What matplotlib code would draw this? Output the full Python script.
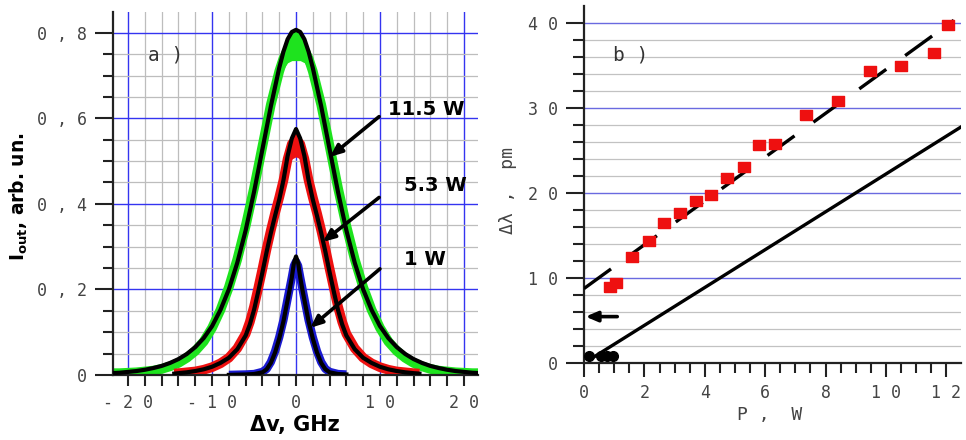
import matplotlib.pyplot as plt
from matplotlib.ticker import MultipleLocator, FuncFormatter

# ---- panel a): transmitted spectra, x in GHz ----
fit_x = [-22, -21, -20, -19, -18, -17, -16, -15, -14, -13, -12, -11, -10, -9, -8, -7, -6, -5, -4, -3,
         -2, -1.5, -1, -0.5, 0, 0.5, 1, 1.5, 2,
         3, 4, 5, 6, 7, 8, 9, 10, 11, 12, 13, 14, 15, 16, 17, 18, 19, 20, 21, 22]
fit_115 = [0.004, 0.005, 0.007, 0.009, 0.012, 0.016, 0.021, 0.028, 0.037, 0.049, 0.065, 0.086, 0.114,
           0.152, 0.200, 0.262, 0.338, 0.428, 0.528, 0.628, 0.718, 0.756, 0.785, 0.802, 0.807,
           0.802, 0.785, 0.756, 0.718, 0.628, 0.528, 0.428, 0.338, 0.262, 0.200, 0.152, 0.114,
           0.086, 0.065, 0.049, 0.037, 0.028, 0.021, 0.016, 0.012, 0.009, 0.007, 0.005, 0.004]
data_115 = [0.004, 0.004, 0.005, 0.006, 0.008, 0.010, 0.014, 0.020, 0.028, 0.040, 0.056, 0.078, 0.110,
            0.152, 0.205, 0.270, 0.348, 0.437, 0.535, 0.632, 0.710, 0.740, 0.760, 0.770, 0.775,
            0.770, 0.760, 0.740, 0.710, 0.632, 0.535, 0.437, 0.348, 0.270, 0.205, 0.152, 0.110,
            0.078, 0.056, 0.040, 0.028, 0.020, 0.014, 0.010, 0.008, 0.006, 0.005, 0.004, 0.004]

red_x = [-14.5, -14, -13, -12, -11, -10, -9, -8, -7, -6, -5.5, -5, -4.5, -4, -3.5, -3, -2.5, -2, -1.5,
         -1, -0.5, 0, 0.5, 1, 1.5, 2, 2.5, 3, 3.5, 4, 4.5, 5, 5.5, 6, 7, 8, 9, 10, 11, 12, 13, 14, 14.7]
fit_53 = [0.003, 0.004, 0.006, 0.009, 0.013, 0.019, 0.028, 0.040, 0.060, 0.092, 0.118, 0.152, 0.195,
          0.240, 0.288, 0.332, 0.372, 0.410, 0.455, 0.512, 0.553, 0.575, 0.553, 0.512, 0.455, 0.410,
          0.372, 0.332, 0.288, 0.240, 0.195, 0.152, 0.118, 0.092, 0.060, 0.040, 0.028, 0.019, 0.013,
          0.009, 0.006, 0.004, 0.003]
data_53 = [0.003, 0.004, 0.006, 0.008, 0.012, 0.018, 0.027, 0.040, 0.062, 0.096, 0.124, 0.160, 0.203,
           0.248, 0.295, 0.338, 0.378, 0.415, 0.455, 0.505, 0.540, 0.550, 0.540, 0.505, 0.455, 0.415,
           0.378, 0.338, 0.295, 0.248, 0.203, 0.160, 0.124, 0.096, 0.062, 0.040, 0.027, 0.018, 0.012,
           0.008, 0.006, 0.004, 0.003]

blue_x = [-8, -6, -5, -4, -3.5, -3, -2.5, -2, -1.5, -1, -0.75, -0.5, -0.25, 0,
          0.25, 0.5, 0.75, 1, 1.5, 2, 2.5, 3, 3.5, 4, 5, 6]
fit_1 = [0.000, 0.001, 0.002, 0.006, 0.013, 0.028, 0.052, 0.085, 0.125, 0.175, 0.200, 0.228, 0.262,
         0.277, 0.262, 0.228, 0.200, 0.175, 0.125, 0.085, 0.052, 0.028, 0.013, 0.006, 0.002, 0.001]
data_1 = [0.000, 0.001, 0.002, 0.007, 0.014, 0.030, 0.055, 0.088, 0.128, 0.178, 0.203, 0.228, 0.255,
          0.265, 0.255, 0.228, 0.203, 0.178, 0.128, 0.088, 0.055, 0.030, 0.014, 0.007, 0.002, 0.001]

# noisy tops of the measured peaks (lower edge of the scatter)
peak_x = [-2, -1.5, -1, -0.5, 0, 0.5, 1, 1.5, 2]
green_lo = [0.69, 0.715, 0.73, 0.735, 0.735, 0.735, 0.73, 0.715, 0.69]
green_hi = [0.718, 0.756, 0.785, 0.802, 0.805, 0.802, 0.785, 0.756, 0.718]
red_peak_x = [-1.5, -1, -0.5, 0, 0.5, 1, 1.5]
red_lo = [0.44, 0.48, 0.505, 0.51, 0.505, 0.48, 0.44]
red_hi = [0.455, 0.512, 0.553, 0.573, 0.553, 0.512, 0.455]

# ---- panel b): shift vs pump power ----
P_meas = [0.85, 1.07, 1.59, 2.14, 2.65, 3.17, 3.70, 4.19, 4.73, 5.29, 5.78, 6.31, 7.34, 8.42,
          9.46, 10.49, 11.58, 12.07]
dl_meas = [9.0, 9.4, 12.5, 14.4, 16.5, 17.7, 19.1, 19.8, 21.8, 23.1, 25.6, 25.8, 29.2, 30.8,
           34.4, 34.9, 36.5, 39.7]
P_dash = [0.0, 12.25]
dl_dash = [8.8, 40.3]
P_solid = [0.3, 12.5]
dl_solid = [0.7, 27.8]
P_low = [0.15, 0.55, 0.75, 0.95]
dl_low = [0.9, 0.9, 0.9, 0.9]

GREEN = '#1ee31e'
RED = '#ee1010'
BLUE = '#1a1ad0'
TICK_GRAY = '#444444'
MONO = 'DejaVu Sans Mono'

plt.rcParams['mathtext.fontset'] = 'dejavusans'


def spaced(s):
    return ' '.join(s)


def fmt_a_y(v, pos):
    if abs(v) < 1e-9:
        return '0'
    return spaced(f'{v:.1f}'.replace('.', ','))


def fmt_int(v, pos):
    return spaced(f'{int(round(v))}')


def style_axes(ax):
    for s in ['top', 'right']:
        ax.spines[s].set_visible(False)
    for s in ['left', 'bottom']:
        ax.spines[s].set_linewidth(1.6)
        ax.spines[s].set_color('#222222')
    ax.tick_params(which='both', direction='out', color='#222222', width=1.5,
                   labelcolor=TICK_GRAY, labelsize=12)
    for lab in ax.get_xticklabels() + ax.get_yticklabels():
        lab.set_family(MONO)


fig = plt.figure(figsize=(9.66, 4.4), dpi=100)

# ================= a) =================
ax1 = fig.add_axes([0.117, 0.148, 0.378, 0.825])
ax1.set_xlim(-21.8, 21.7)
ax1.set_ylim(0, 0.849)
ax1.xaxis.set_major_locator(MultipleLocator(10))
ax1.xaxis.set_minor_locator(MultipleLocator(2))
ax1.yaxis.set_major_locator(MultipleLocator(0.2))
ax1.yaxis.set_minor_locator(MultipleLocator(0.05))
ax1.xaxis.set_major_formatter(FuncFormatter(fmt_int))
ax1.yaxis.set_major_formatter(FuncFormatter(fmt_a_y))
ax1.grid(which='minor', color='#bdbdbd', lw=0.9)
ax1.grid(which='major', color='#3434f0', lw=1.0)
ax1.set_axisbelow(True)
style_axes(ax1)
ax1.tick_params(axis='x', which='both', length=8, pad=6)
ax1.tick_params(axis='y', which='major', length=13, pad=6)
ax1.tick_params(axis='y', which='minor', length=7)

ax1.plot(fit_x, data_115, color=GREEN, lw=7, solid_capstyle='butt', zorder=2)
ax1.fill_between(peak_x, green_lo, green_hi, color=GREEN, lw=0, zorder=2)
ax1.plot(red_x, data_53, color=RED, lw=7, solid_capstyle='butt', zorder=2)
ax1.fill_between(red_peak_x, red_lo, red_hi, color=RED, lw=0, zorder=2)
ax1.plot(blue_x, data_1, color=BLUE, lw=6, solid_capstyle='butt', zorder=2)
ax1.plot(fit_x, fit_115, color='black', lw=3, zorder=3)
ax1.plot(red_x, fit_53, color='black', lw=3, zorder=3)
ax1.plot(blue_x, fit_1, color='black', lw=3, zorder=3)

arrow_kw = dict(arrowstyle='-|>,head_length=0.7,head_width=0.3', color='black', lw=2.6,
                shrinkA=0, shrinkB=0)
ax1.annotate('', xy=(4.05, 0.51), xytext=(9.9, 0.604), arrowprops=arrow_kw, zorder=5)
ax1.annotate('', xy=(3.2, 0.311), xytext=(9.9, 0.415), arrowprops=arrow_kw, zorder=5)
ax1.annotate('', xy=(1.7, 0.11), xytext=(10.0, 0.248), arrowprops=arrow_kw, zorder=5)
ax1.text(10.9, 0.62, '11.5 W', fontsize=14, fontweight='bold', va='center', ha='left')
ax1.text(12.9, 0.444, '5.3 W', fontsize=14, fontweight='bold', va='center', ha='left')
ax1.text(12.9, 0.271, '1 W', fontsize=14, fontweight='bold', va='center', ha='left')
ax1.text(-17.6, 0.749, 'a )', family=MONO, fontsize=14, color='#333333', va='center', ha='left')

fig.text(0.305, 0.033, 'Δv, GHz', fontsize=15, fontweight='bold', ha='center', va='center')
fig.text(0.019, 0.553, r'I$_{\mathbf{out}}$, arb. un.', fontsize=13.5, fontweight='bold',
         rotation=90, ha='center', va='center')

# ================= b) =================
ax2 = fig.add_axes([0.6046, 0.174, 0.390, 0.812])
ax2.set_xlim(0, 12.48)
ax2.set_ylim(0, 41.96)
ax2.xaxis.set_major_locator(MultipleLocator(2))
ax2.xaxis.set_minor_locator(MultipleLocator(0.5))
ax2.yaxis.set_major_locator(MultipleLocator(10))
ax2.yaxis.set_minor_locator(MultipleLocator(2))
ax2.xaxis.set_major_formatter(FuncFormatter(fmt_int))
ax2.yaxis.set_major_formatter(FuncFormatter(fmt_int))
ax2.grid(axis='y', which='minor', color='#c2c2c2', lw=0.9)
ax2.grid(axis='y', which='major', color='#6a6ae0', lw=1.0)
ax2.set_axisbelow(True)
style_axes(ax2)
ax2.tick_params(axis='x', which='major', length=10, pad=5)
ax2.tick_params(axis='x', which='minor', length=7)
ax2.tick_params(axis='y', which='major', length=13, pad=6)
ax2.tick_params(axis='y', which='minor', length=8)

ax2.plot(P_solid, dl_solid, color='black', lw=2.4, zorder=3)
ax2.plot(P_dash, dl_dash, color='black', lw=2.4, dashes=(10, 7), zorder=3)
rect = [(-1.35, -1), (1.35, -1), (1.35, 1), (-1.35, 1), (-1.35, -1)]
ax2.plot(P_meas, dl_meas, ls='none', marker=rect, ms=9, color=RED, mec=RED, zorder=4)
ax2.plot(P_low, dl_low, ls='none', marker='o', ms=7, color='black', zorder=4, clip_on=False)
ax2.annotate('', xy=(0.05, 5.5), xytext=(1.1, 5.5),
             arrowprops=dict(arrowstyle='-|>,head_length=0.7,head_width=0.3', color='black',
                             lw=2.6, shrinkA=0, shrinkB=0))
ax2.text(0.95, 36.2, 'b )', family=MONO, fontsize=14, color='#333333', va='center', ha='left')

fig.text(0.797, 0.057, 'P ,  W', family=MONO, fontsize=13, color=TICK_GRAY, ha='center', va='center')
fig.text(0.526, 0.568, 'Δλ ,  pm', family=MONO, fontsize=13, color=TICK_GRAY,
         rotation=90, ha='center', va='center')

fig.savefig('out.png', dpi=100)
